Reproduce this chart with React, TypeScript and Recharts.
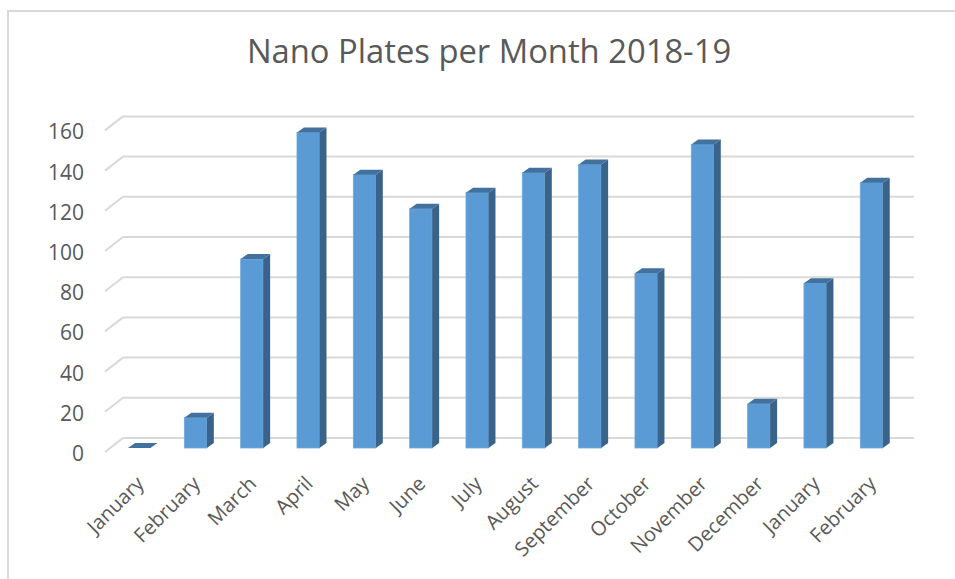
import React from 'react';
import { BarChart, Bar, XAxis, YAxis, CartesianGrid } from 'recharts';

const months = [
  'January', 'February', 'March', 'April', 'May', 'June', 'July',
  'August', 'September', 'October', 'November', 'December', 'January', 'February',
];
const plates = [0, 15, 94, 157, 136, 119, 127, 137, 141, 87, 151, 22, 82, 132];
const yTicks = [0, 20, 40, 60, 80, 100, 120, 140, 160];

const data = months.map((m, i) => ({ key: `${m}-${i}`, month: m, plates: plates[i] }));

const FONT = '"Open Sans", sans-serif';
const TEXT = '#595959';
const GRID = '#d9d9d9';
const DX = 7;
const DY = 5;

const Bar3D = (props: any) => {
  const { x, y, width, height } = props;
  const w = width;
  const h = Math.max(0, height);
  const top = `${x},${y} ${x + w},${y} ${x + w + DX},${y - DY} ${x + DX},${y - DY}`;
  const side = `${x + w},${y} ${x + w + DX},${y - DY} ${x + w + DX},${y + h - DY} ${x + w},${y + h}`;
  return (
    <g>
      {h > 0 && <rect x={x} y={y} width={w} height={h} fill="#5b9bd5" stroke="#6fa9dc" strokeWidth={0.8} />}
      {h > 0 && <polygon points={side} fill="#3a638b" />}
      <polygon points={top} fill="#41719c" />
    </g>
  );
};

const gridLine = (p: any) => {
  const { y1, x2, key } = p;
  const yb = y1 - 10;
  return (
    <g key={key}>
      <line x1={105} y1={y1 + 4} x2={123} y2={yb} stroke={GRID} strokeWidth={2} />
      <line x1={123} y1={yb} x2={x2 + 14.5} y2={yb} stroke={GRID} strokeWidth={2} />
    </g>
  );
};

const YTick = (p: any) => {
  const { y, payload } = p;
  return (
    <text x={84} y={y + 5} textAnchor="end" dominantBaseline="central" fontFamily={FONT} fontSize={21} fill={TEXT}>
      {payload.value}
    </text>
  );
};

const XTick = (p: any) => {
  const { x, payload, index } = p;
  const label = months[index] ?? payload.value;
  const ax = x + 1;
  const ay = 480;
  return (
    <text
      x={ax}
      y={ay}
      dy="0.35em"
      textAnchor="end"
      transform={`rotate(-45, ${ax}, ${ay})`}
      fontFamily={FONT}
      fontSize={20}
      fill={TEXT}
    >
      {label}
    </text>
  );
};

export default function App() {
  return (
    <div style={{ position: 'absolute', left: 0, top: 0, width: 955, height: 579, background: '#fff', overflow: 'hidden' }}>
      <div
        style={{
          position: 'absolute', left: 7, top: 10, width: 948, height: 569,
          borderLeft: `2px solid ${GRID}`, borderTop: `2px solid ${GRID}`, boxSizing: 'border-box',
        }}
      />
      <div
        style={{
          position: 'absolute', left: 0, top: 33, width: 978, textAlign: 'center',
          fontFamily: FONT, fontSize: 32.75, color: TEXT, lineHeight: '36px', whiteSpace: 'nowrap',
        }}
      >
        Nano Plates per Month 2018-19
      </div>
      <div style={{ position: 'absolute', left: 0, top: 0 }}>
        <BarChart
          width={955}
          height={579}
          data={data}
          margin={{ top: 126.4, right: 55.4, bottom: 0, left: 0 }}
          barSize={22.5}
        >
          <CartesianGrid vertical={false} horizontal={gridLine} />
          <XAxis dataKey="key" interval={0} axisLine={false} tickLine={false} height={131} tick={<XTick />} />
          <YAxis width={111} domain={[0, 160]} ticks={yTicks} axisLine={false} tickLine={false} tick={<YTick />} />
          <Bar dataKey="plates" shape={<Bar3D />} isAnimationActive={false} />
        </BarChart>
      </div>
    </div>
  );
}
